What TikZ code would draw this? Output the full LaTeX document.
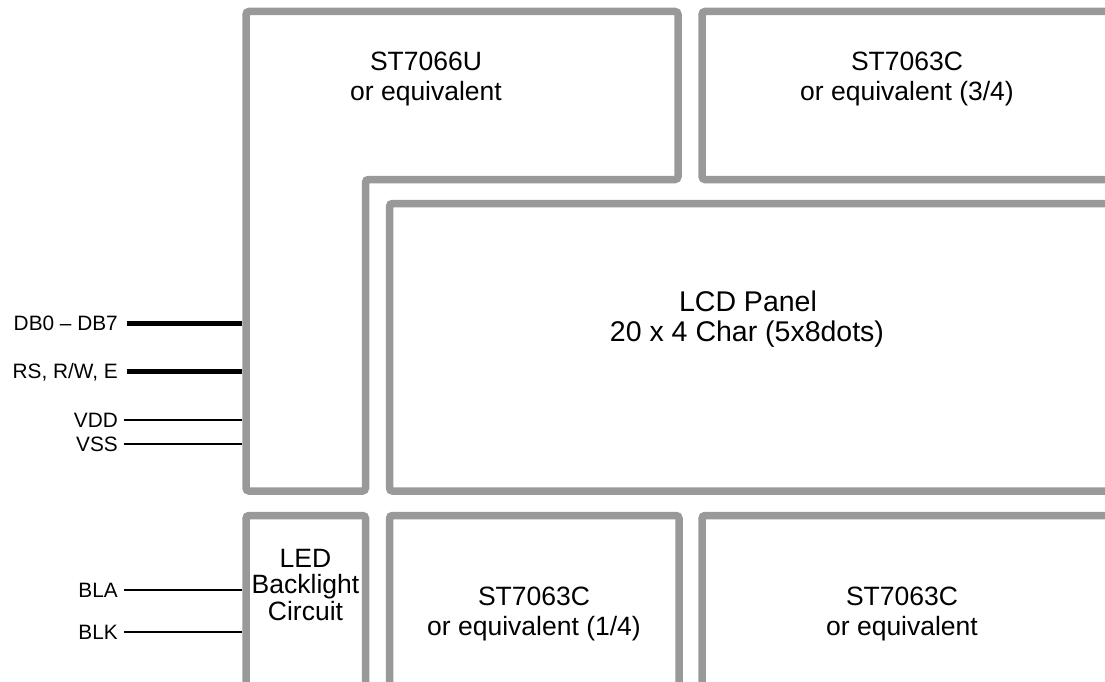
\documentclass[tikz,border=0pt]{standalone}
\usepackage{fontspec}
\setmainfont{Liberation Sans}
\definecolor{boxgray}{RGB}{153,153,153}
\tikzset{
  chip/.style={draw=boxgray, line width=7.5pt, rounded corners=3pt},
  lbl/.style={inner sep=0pt, anchor=base, font=\fontsize{26.5}{30}\selectfont},
  biglbl/.style={inner sep=0pt, anchor=base, font=\fontsize{28.5}{32}\selectfont},
  pinlbl/.style={inner sep=0pt, anchor=base east, font=\fontsize{20.8}{24}\selectfont},
  bus/.style={line width=5pt},
  wire/.style={line width=1.3pt}
}
\begin{document}
\begin{tikzpicture}[x=1pt,y=-1pt]
\clip (0,0) rectangle (1105,682);
\fill[white] (0,0) rectangle (1105,682);
% ST7066U L-shaped block
\draw[chip] (246,11.5) -- (678,11.5) -- (678,179.5) -- (365.5,179.5) -- (365.5,491) -- (246,491) -- cycle;
% ST7063C (3/4)
\draw[chip] (1130,11.5) -- (702,11.5) -- (702,179.5) -- (1130,179.5);
% LCD panel
\draw[chip] (1130,203.5) -- (389.5,203.5) -- (389.5,491) -- (1130,491);
% LED backlight
\draw[chip] (246,515.5) rectangle (365.5,686);
% ST7063C (1/4)
\draw[chip] (389.5,515.5) rectangle (679,686);
% ST7063C
\draw[chip] (1130,515.5) -- (702,515.5) -- (702,686) -- (1130,686);

% texts
\node[lbl] (u1a) at (426,71) {ST7066U};
\node[lbl] (u1b) at (426,101) {or equivalent};
\node[lbl] (u2a) at (907,71) {ST7063C};
\node[lbl] (u2b) at (907,101) {or equivalent (3/4)};
\node[biglbl] (lcda) at (748,311) {LCD Panel};
\node[biglbl] (lcdb) at (747,341) {20 x 4 Char (5x8dots)};
\node[lbl] (leda) at (305.5,567) {LED};
\node[lbl] (ledb) at (305.5,593) {Backlight};
\node[lbl] (ledc) at (305.5,620) {Circuit};
\node[lbl] (u3a) at (534,605) {ST7063C};
\node[lbl] (u3b) at (534,635) {or equivalent (1/4)};
\node[lbl] (u4a) at (902,605) {ST7063C};
\node[lbl] (u4b) at (902,635) {or equivalent};

% pins
\node[pinlbl] (pdb) at (118,330) {DB0 – DB7};
\node[pinlbl] (prs) at (118,378) {RS, R/W, E};
\node[pinlbl] (pvdd) at (118,427) {VDD};
\node[pinlbl] (pvss) at (118,451) {VSS};
\node[pinlbl] (pbla) at (118,597) {BLA};
\node[pinlbl] (pblk) at (118,639) {BLK};
\coordinate (cdb) at (242,323);
\coordinate (crs) at (242,371);
\coordinate (cvdd) at (242,420);
\coordinate (cvss) at (242,444);
\coordinate (cbla) at (242,590);
\coordinate (cblk) at (242,632);
\draw[bus] (cdb -| 127,0) -- (cdb);
\draw[bus] (crs -| 127,0) -- (crs);
\draw[wire] (cvdd -| 124,0) -- (cvdd);
\draw[wire] (cvss -| 124,0) -- (cvss);
\draw[wire] (cbla -| 124,0) -- (cbla);
\draw[wire] (cblk -| 124,0) -- (cblk);
\end{tikzpicture}
\end{document}
